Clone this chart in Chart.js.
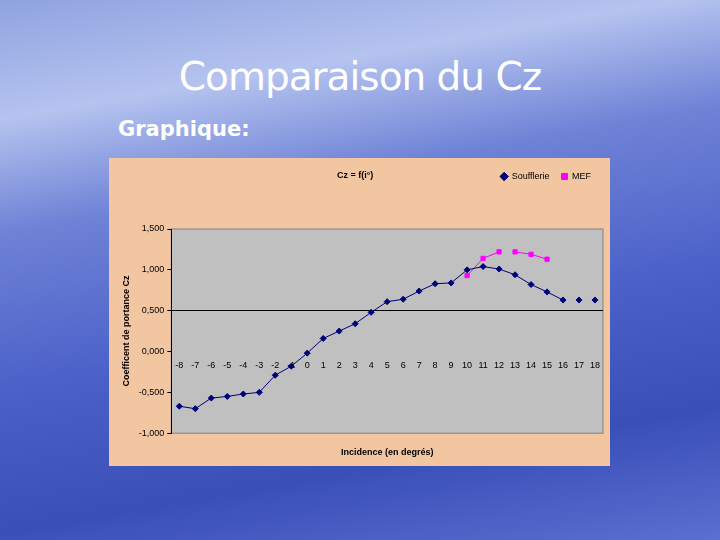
<!DOCTYPE html>
<html><head><meta charset="utf-8">
<script src="https://cdn.jsdelivr.net/npm/chart.js@4"></script>
<style>
body{margin:0;width:720px;height:540px;overflow:hidden;position:relative;
background:linear-gradient(170deg,#8fa3e0 0%,#b5c3ef 18%,#6e82d6 35%,#4a5fc8 60%,#3a4fb8 80%,#5b6fd0 100%);font-family:"DejaVu Sans",sans-serif;}
#t{position:absolute;left:0;width:720px;top:54px;text-align:center;font-size:39px;color:#fff;font-family:"DejaVu Sans",sans-serif;letter-spacing:-1px;}
#g{position:absolute;left:118px;top:117px;font-size:21px;font-weight:bold;color:#fff;}
#box{position:absolute;left:109px;top:158px;width:501px;height:308px;background:#f3c6a2;}
#ct{position:absolute;left:228px;top:12px;font:bold 9px "Liberation Sans",sans-serif;color:#000;}
</style></head><body>
<div id="t">Comparaison du Cz</div>
<div id="g">Graphique:</div>
<div id="box"><canvas id="c" width="501" height="308"></canvas><div id="ct">Cz = f(i°)</div></div>
<script>
const categories=[-8,-7,-6,-5,-4,-3,-2,-1,0,1,2,3,4,5,6,7,8,9,10,11,12,13,14,15,16,17,18];
const soufflerie=[-0.67,-0.70,-0.57,-0.55,-0.52,-0.50,-0.29,-0.18,-0.02,0.16,0.25,0.34,0.48,0.61,0.64,0.74,0.83,0.84,1.00,1.04,1.01,0.94,0.82,0.73,0.63,0.63,0.63];
const mef=[null,null,null,null,null,null,null,null,null,null,null,null,null,null,null,null,null,null,0.93,1.14,1.22,1.22,1.19,1.13,null,null,null];
const yTicks=[-1,-0.5,0,0.5,1,1.5];
const fmt=v=>(v<0?'-':'')+Math.abs(v).toFixed(3).replace('.',',');
const xLabels={id:'xl',afterDatasetsDraw(ch){const x=ch.scales.x,y=ch.scales.y,c=ch.ctx;c.save();c.font='9px "Liberation Sans",sans-serif';c.fillStyle='#000';c.textAlign='center';c.textBaseline='middle';
categories.forEach((v,i)=>c.fillText(String(v),x.getPixelForValue(i),y.getPixelForValue(-0.17)));c.restore();}};
new Chart(document.getElementById('c'),{type:'line',
data:{labels:categories.map(String),datasets:[
{label:'Soufflerie',data:soufflerie,borderColor:'#00007a',backgroundColor:'#00007a',borderWidth:1,pointStyle:'rectRot',pointRadius:3,
 segment:{borderColor:ctx=>ctx.p0DataIndex>=24?'rgba(0,0,0,0)':'#00007a'}},
{label:'MEF',data:mef,borderColor:'#ff00ff',backgroundColor:'#ff00ff',borderWidth:1,pointStyle:'rect',pointRadius:3,spanGaps:false,
 segment:{borderColor:ctx=>ctx.p0DataIndex===20?'rgba(0,0,0,0)':'#ff00ff'}}]},
options:{responsive:false,animation:false,
layout:{padding:{left:8,right:7,top:2,bottom:0}},
plugins:{legend:{position:'top',align:'end',labels:{font:{size:9,family:'Liberation Sans'},color:'#000',boxWidth:6,boxHeight:6,usePointStyle:true,padding:12},
 onClick:null},tooltip:{enabled:false}},
scales:{x:{offset:true,grid:{display:false},border:{display:false},ticks:{display:false},
 title:{display:true,text:'Incidence (en degrés)',font:{size:9,weight:'bold',family:'Liberation Sans'},color:'#000',padding:{top:6,bottom:8}}},
x2:{position:'top',display:true,grid:{display:false},border:{display:false},ticks:{display:false},afterFit:s=>{s.height=38;}},
y:{min:-1,max:1.5,afterBuildTicks:a=>{a.ticks=yTicks.map(v=>({value:v}));},
 ticks:{callback:v=>fmt(v),font:{size:9,family:'Liberation Sans'},color:'#000'},
 grid:{color:ctx=>ctx.tick&&ctx.tick.value===0.5?'#000':'rgba(0,0,0,0)',drawTicks:true,tickLength:4,tickColor:'#000'},border:{color:'#000'},
 title:{display:true,text:'Coefficent de portance Cz',font:{size:9,weight:'bold',family:'Liberation Sans'},color:'#000'}}}},
plugins:[{id:'bg',beforeDraw(ch){const a=ch.chartArea,c=ch.ctx;c.save();c.fillStyle='#c0c0c0';c.fillRect(a.left,a.top,a.right-a.left,a.bottom-a.top);c.strokeStyle='#808080';c.strokeRect(a.left,a.top,a.right-a.left,a.bottom-a.top);c.restore();}},xLabels]});
</script></body></html>
